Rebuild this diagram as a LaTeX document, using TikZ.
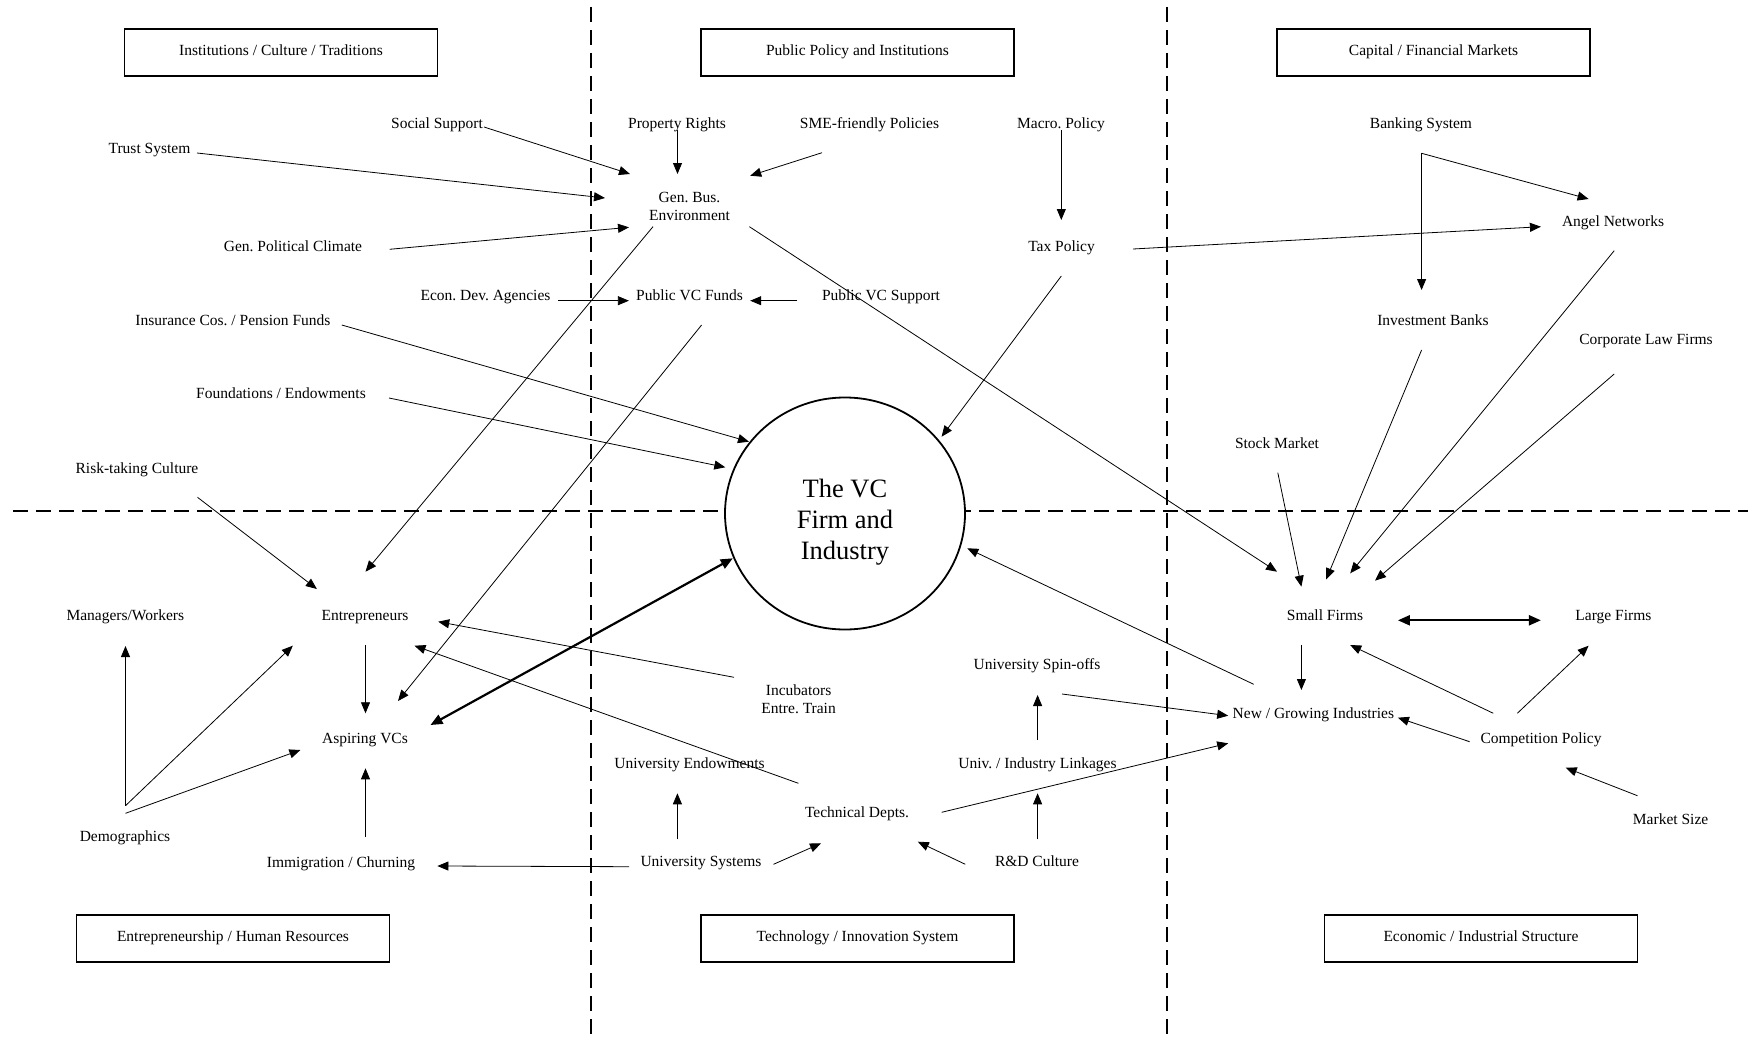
\documentclass[tikz,border=0pt]{standalone}
\usepackage{fontspec}
\setmainfont{Liberation Serif}
\usetikzlibrary{arrows.meta,shapes.geometric}
\frenchspacing
\begin{document}
\begin{tikzpicture}[x=1pt,y=-1pt,
  lbl/.style={font=\fontsize{15.5}{18}\selectfont, inner sep=0pt, text height=14pt, text depth=3.4pt},
  lbltwo/.style={font=\fontsize{15.5}{18}\selectfont, inner sep=0pt, align=center},
  catbox/.style={draw, line width=1.6pt, minimum width=313pt, minimum height=47pt, inner sep=0pt, text height=9pt, text depth=3.4pt, font=\fontsize{15.5}{18}\selectfont},
  arr/.style={line width=0.8pt, -{Triangle[length=11pt,width=9pt]}},
  barr/.style={line width=2.2pt, {Triangle[length=12pt,width=10pt]}-{Triangle[length=12pt,width=10pt]}},
  divider/.style={line width=2pt, dash pattern=on 15pt off 8pt}]
\useasboundingbox (0,0) rectangle (1748,1038);

% dividers
\coordinate (vtopA) at (591,7);   \coordinate (vbotA) at (591,1038);
\coordinate (vtopB) at (1167,7);  \coordinate (vbotB) at (1167,1038);
\coordinate (hl) at (13,511);     \coordinate (hr) at (1748,511);
\draw[divider] (vtopA) -- (vbotA);
\draw[divider] (vtopB) -- (vbotB);
\draw[divider] (hl) -- (hr);

% central firm
\node[draw, ellipse, fill=white, line width=1.8pt, minimum width=240pt, minimum height=232pt, inner sep=0pt,
      align=center, font=\fontsize{26.5}{31}\selectfont] (vc) at (845,513.5) {\rule{0pt}{36pt}The VC\\Firm and\\Industry};

% category boxes
\node[catbox] (inst) at (281,52.5) {Institutions / Culture / Traditions};
\node[catbox] (ppi) at (857.5,52.5) {Public Policy and Institutions};
\node[catbox] (cap) at (1433.5,52.5) {Capital / Financial Markets};
\node[catbox] (ehr) at (233,938.5) {Entrepreneurship / Human Resources};
\node[catbox] (tis) at (857.5,938.5) {Technology / Innovation System};
\node[catbox] (eis) at (1481,938.5) {Economic / Industrial Structure};

% labels
\node[lbl] (soc) at (437,123) {Social Support};
\node[lbl] (trust) at (149.5,148) {Trust System};
\node[lbl] (gpc) at (293,246) {Gen. Political Climate};
\node[lbl] (eda) at (485.5,295) {Econ. Dev. Agencies};
\node[lbl] (ins) at (233,320) {Insurance Cos. / Pension Funds};
\node[lbl] (fnd) at (281,393.5) {Foundations / Endowments};
\node[lbl] (risk) at (137,468) {Risk-taking Culture};
\node[lbl] (mgr) at (125.3,615) {Managers/Workers};
\node[lbl] (entr) at (365,615) {Entrepreneurs};
\node[lbl] (avc) at (365,738) {Aspiring VCs};
\node[lbl] (demo) at (125,836) {Demographics};
\node[lbl] (immi) at (341,862) {Immigration / Churning};
\node[lbl] (prop) at (677,123) {Property Rights};
\node[lbl] (sme) at (869.5,123) {SME-friendly Policies};
\node[lbl] (macro) at (1061,123) {Macro. Policy};
\node[lbltwo] (gbe) at (689.5,206) {Gen. Bus.\\Environment};
\node[lbl] (tax) at (1061.5,246) {Tax Policy};
\node[lbl] (pvf) at (689.6,295) {Public VC Funds};
\node[lbl] (pvs) at (881,295) {Public VC Support};
\node[lbl] (bank) at (1421,123) {Banking System};
\node[lbl] (angel) at (1613,221) {Angel Networks};
\node[lbl] (invb) at (1433,320) {Investment Banks};
\node[lbl] (corp) at (1646,339) {Corporate Law Firms};
\node[lbl] (stock) at (1277,443.3) {Stock Market};
\node[lbl] (small) at (1325,615) {Small Firms};
\node[lbl] (large) at (1613.4,615) {Large Firms};
\node[lbl] (ngi) at (1313.4,713.3) {New / Growing Industries};
\node[lbl] (comp) at (1541,738.3) {Competition Policy};
\node[lbl] (msize) at (1670.6,819) {Market Size};
\node[lbltwo] (incub) at (798.6,699) {Incubators\\Entre. Train};
\node[lbl] (spin) at (1037,664.3) {University Spin-offs};
\node[lbl] (uend) at (689.5,763.3) {University Endowments};
\node[lbl] (uil) at (1037.5,763.3) {Univ. / Industry Linkages};
\node[lbl] (tdep) at (857,812.3) {Technical Depts.};
\node[lbl] (usys) at (701,861) {University Systems};
\node[lbl] (rnd) at (1037,861) {R\&D Culture};

% connectors
\draw[arr] ([shift={(47,4)}]soc.center) -- ([shift={(-59.5,-32)}]gbe.center);
\draw[arr] ([shift={(47.5,5)}]trust.center) -- ([shift={(-84.5,-8)}]gbe.center);
\draw[arr] ([shift={(96.6,3.3)}]gpc.center) -- ([shift={(-60.5,21.3)}]gbe.center);
\draw[arr] ([shift={(0.5,7)}]prop.center) -- ([shift={(-12,-32)}]gbe.center);
\draw[arr] ([shift={(-47.5,29.7)}]sme.center) -- ([shift={(60.7,-30.3)}]gbe.center);
\draw[arr] ([shift={(0.3,7)}]macro.center) -- ([shift={(-0.2,-26)}]tax.center);
\draw[arr] ([shift={(71.5,3)}]tax.center) -- ([shift={(-72.1,5.7)}]angel.center);
\coordinate (bsplit) at ([shift={(0.6,30.3)}]bank.center);
\draw[arr] (bsplit) -- ([shift={(-11.4,-30)}]invb.center);
\draw[arr] (bsplit) -- ([shift={(-24.4,-22)}]angel.center);
\draw[arr] ([shift={(72.5,5.7)}]eda.center) -- ([shift={(-60.7,5.7)}]pvf.center);
\draw[arr] ([shift={(-83.7,5.7)}]pvs.center) -- ([shift={(60.6,5.7)}]pvf.center);
\draw[arr] ([shift={(-36.5,20.7)}]gbe.center) -- ([shift={(0.5,-43.3)}]entr.center);
\draw[arr] ([shift={(12,30)}]pvf.center) -- ([shift={(33,-37)}]avc.center);
\draw[arr] ([shift={(59.9,20.7)}]gbe.center) -- ([shift={(-48,-43.3)}]small.center);
\draw[arr] ([shift={(-0.2,30)}]tax.center) -- ([shift={(96.6,-76.8)}]vc.center);
\draw[arr] ([shift={(108.8,5)}]ins.center) -- ([shift={(-96,-71.8)}]vc.center);
\draw[arr] ([shift={(108,4.5)}]fnd.center) -- ([shift={(-119.7,-46.2)}]vc.center);
\draw[arr] ([shift={(60.5,29.3)}]risk.center) -- ([shift={(-48.1,-26)}]entr.center);
\draw[arr] ([shift={(0.5,30)}]entr.center) -- ([shift={(0.5,-24.7)}]avc.center);
\coordinate (dsplit) at ([shift={(0.5,-30.3)}]demo.center);
\draw[arr] (dsplit) -- ([shift={(0.2,31)}]mgr.center);
\draw[arr] (dsplit) -- ([shift={(-72.2,30.7)}]entr.center);
\draw[arr] ([shift={(0.5,-22.7)}]demo.center) -- ([shift={(-64.6,12)}]avc.center);
\draw[arr] ([shift={(24.5,-25.3)}]immi.center) -- ([shift={(0.5,30.3)}]avc.center);
\draw[arr] ([shift={(-71.8,5.7)}]usys.center) -- ([shift={(96.4,4)}]immi.center);
\draw[arr] ([shift={(-64.6,-21.7)}]incub.center) -- ([shift={(73.2,6.7)}]entr.center);
\draw[arr] ([shift={(-58.6,-29)}]tdep.center) -- ([shift={(49.5,30.7)}]entr.center);
\draw[barr] ([shift={(-112.2,44.8)}]vc.center) -- ([shift={(65.5,-13)}]avc.center);
\draw[arr] ([shift={(-23.6,-21.7)}]usys.center) -- ([shift={(-12.1,30)}]uend.center);
\draw[arr] ([shift={(72.5,3.3)}]usys.center) -- ([shift={(-36,31)}]tdep.center);
\draw[arr] ([shift={(-71.7,3.3)}]rnd.center) -- ([shift={(60.8,29.4)}]tdep.center);
\draw[arr] ([shift={(0.6,-21.7)}]rnd.center) -- ([shift={(0.1,30)}]uil.center);
\draw[arr] ([shift={(0.1,-23.3)}]uil.center) -- ([shift={(0.6,30.7)}]spin.center);
\draw[arr] ([shift={(25,29.7)}]spin.center) -- ([shift={(-85.2,2.4)}]ngi.center);
\draw[arr] ([shift={(84.6,0)}]tdep.center) -- ([shift={(-85.2,30)}]ngi.center);
\draw[arr] ([shift={(-59.7,-29)}]ngi.center) -- ([shift={(122.3,34.8)}]vc.center);
\draw[arr] ([shift={(0.8,29.4)}]stock.center) -- ([shift={(-23.6,-28.3)}]small.center);
\draw[arr] ([shift={(-11.4,30)}]invb.center) -- ([shift={(1.2,-35.7)}]small.center);
\draw[arr] ([shift={(1.2,29.7)}]angel.center) -- ([shift={(25.2,-41.7)}]small.center);
\draw[arr] ([shift={(-31.8,35)}]corp.center) -- ([shift={(50,-34.3)}]small.center);
\draw[barr] ([shift={(72.9,5.3)}]small.center) -- ([shift={(-72.5,5.3)}]large.center);
\draw[arr] ([shift={(-23.6,30)}]small.center) -- ([shift={(-12,-23.3)}]ngi.center);
\draw[arr] ([shift={(-47.7,-25)}]comp.center) -- ([shift={(25.2,30)}]small.center);
\draw[arr] ([shift={(-23.7,-25)}]comp.center) -- ([shift={(-24.8,30.7)}]large.center);
\draw[arr] ([shift={(-71.4,3.4)}]comp.center) -- ([shift={(84.5,4.4)}]ngi.center);
\draw[arr] ([shift={(-33.2,-23.3)}]msize.center) -- ([shift={(24.7,29.4)}]comp.center);
\end{tikzpicture}
\end{document}
